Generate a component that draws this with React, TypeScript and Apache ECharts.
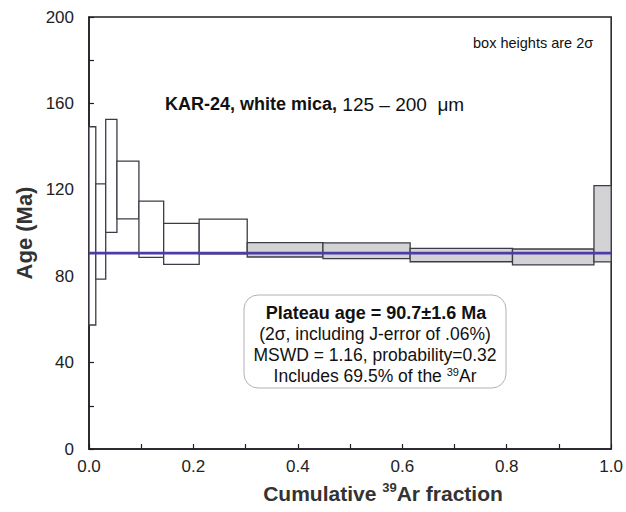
import React, { useEffect, useRef } from "react";
import * as echarts from "echarts";

// cumulative 39Ar fraction boundaries of the heating steps
const stepBounds = [0, 0.013, 0.032, 0.0535, 0.0956, 0.143, 0.211, 0.303, 0.448, 0.615, 0.811, 0.967, 1.0];
// 2-sigma box limits (Ma)
const ageHigh = [149.2, 122.7, 152.6, 133.3, 114.8, 104.5, 106.4, 95.5, 95.4, 92.9, 92.6, 121.9];
const ageLow = [57.4, 78.6, 100.3, 106.5, 88.7, 85.5, 90.4, 88.9, 88.1, 86.7, 85.2, 86.6];
// 1 = step included in plateau
const inPlateau = [0, 0, 0, 0, 0, 0, 0, 1, 1, 1, 1, 1];
const plateauAge = 90.7;

const FONT = "'Liberation Sans', Arial, Helvetica, sans-serif";

export default function App() {
  const ref = useRef<HTMLDivElement>(null);
  useEffect(() => {
    if (!ref.current) return;
    const chart = echarts.init(ref.current, undefined, { renderer: "svg" });
    const boxData = ageHigh.map((hi, i) => [stepBounds[i], stepBounds[i + 1], ageLow[i], hi, inPlateau[i]]);
    const option: any = {
      animation: false,
      backgroundColor: "#fff",
      textStyle: { fontFamily: FONT },
      grid: {
        left: 89, right: 14, top: 17, bottom: 63,
        show: true, borderColor: "#1e1e24", borderWidth: 1.5, backgroundColor: "transparent",
      },
      xAxis: {
        type: "value", min: 0, max: 1, interval: 0.1,
        splitLine: { show: false },
        axisLine: { lineStyle: { color: "#1e1e24", width: 1.5 } },
        axisTick: { inside: true, length: 5, lineStyle: { color: "#1e1e24", width: 1.2 } },
        axisLabel: {
          fontSize: 17, color: "#222", fontFamily: FONT, margin: 9,
          formatter: (v: number) => (Math.round(v * 10) % 2 === 0 ? v.toFixed(1) : ""),
        },
      },
      yAxis: {
        type: "value", min: 0, max: 200, interval: 20,
        splitLine: { show: false },
        axisLine: { lineStyle: { color: "#1e1e24", width: 1.5 } },
        axisTick: { inside: true, length: 5, lineStyle: { color: "#1e1e24", width: 1.2 } },
        axisLabel: {
          fontSize: 17, color: "#222", fontFamily: FONT, margin: 15,
          formatter: (v: number) => (Math.round(v) % 40 === 0 ? String(v) : ""),
        },
      },
      series: [
        {
          type: "custom",
          data: boxData,
          z: 2,
          renderItem: (params: any, api: any) => {
            const x0 = api.value(0), x1 = api.value(1), lo = api.value(2), hi = api.value(3), pl = api.value(4);
            const p0 = api.coord([x0, hi]);
            const p1 = api.coord([x1, lo]);
            return {
              type: "rect",
              shape: { x: p0[0], y: p0[1], width: p1[0] - p0[0], height: p1[1] - p0[1] },
              style: { fill: pl ? "#d3d3d6" : "#ffffff", stroke: "#3c3c48", lineWidth: 1.3 },
            };
          },
        },
        {
          type: "line",
          data: [[0, plateauAge], [1, plateauAge]],
          symbol: "none",
          z: 5,
          lineStyle: { color: "#4b3ca6", width: 2.6 },
        },
      ],
      graphic: [
        {
          type: "text", left: 473, top: 35, z: 10,
          style: { text: "box heights are 2σ", fontSize: 14.5, fill: "#111", fontFamily: FONT },
        },
        {
          type: "text", x: 165, y: 104, z: 10,
          style: {
            text: "{b|KAR-24, white mica,}{n| 125 – 200  μm}",
            fontFamily: FONT, verticalAlign: "middle",
            rich: {
              b: { fontSize: 18, fontWeight: "bold", fill: "#111", fontFamily: FONT },
              n: { fontSize: 19, fill: "#111", fontFamily: FONT },
            },
          },
        },
        {
          type: "text", z: 10, x: 24, y: 233, rotation: Math.PI / 2,
          style: {
            text: "Age (Ma)", fontSize: 22, fontWeight: "bold", fill: "#333",
            fontFamily: FONT, align: "center", verticalAlign: "middle",
          },
        },
        {
          type: "text", z: 10, x: 383, y: 493,
          style: {
            text: "{t|Cumulative }{s|39}{t|Ar fraction}",
            align: "center", verticalAlign: "middle", fontFamily: FONT,
            rich: {
              t: { fontSize: 21, fontWeight: "bold", fill: "#333", fontFamily: FONT, lineHeight: 24 },
              s: { fontSize: 13, fontWeight: "bold", fill: "#333", fontFamily: FONT, verticalAlign: "top", lineHeight: 24, padding: [0, 0, 10, 0] },
            },
          },
        },
        {
          type: "rect", z: 8,
          shape: { x: 244, y: 295, width: 262, height: 93, r: 14 },
          style: { fill: "#fff", stroke: "#b0b0ba", lineWidth: 1 },
        },
        {
          type: "text", z: 10, x: 376, y: 313,
          style: { text: "Plateau age = 90.7±1.6 Ma", fontSize: 18, fontWeight: "bold", fill: "#111", fontFamily: FONT, align: "center", verticalAlign: "middle" },
        },
        {
          type: "text", z: 10, x: 375, y: 334,
          style: { text: "(2σ, including J-error of .06%)", fontSize: 17.5, fill: "#111", fontFamily: FONT, align: "center", verticalAlign: "middle" },
        },
        {
          type: "text", z: 10, x: 375, y: 355,
          style: { text: "MSWD = 1.16, probability=0.32", fontSize: 17.5, fill: "#111", fontFamily: FONT, align: "center", verticalAlign: "middle" },
        },
        {
          type: "text", z: 10, x: 375, y: 376,
          style: {
            text: "{t|Includes 69.5% of the }{s|39}{t|Ar}",
            align: "center", verticalAlign: "middle", fontFamily: FONT,
            rich: {
              t: { fontSize: 17.5, fill: "#111", fontFamily: FONT, lineHeight: 20 },
              s: { fontSize: 11, fill: "#111", fontFamily: FONT, lineHeight: 20, padding: [0, 0, 8, 0] },
            },
          },
        },
      ],
    };
    chart.setOption(option);
    return () => chart.dispose();
  }, []);
  return (
    <div
      ref={ref}
      style={{ position: "absolute", left: 0, top: 0, width: 626, height: 512, background: "#fff" }}
    />
  );
}
